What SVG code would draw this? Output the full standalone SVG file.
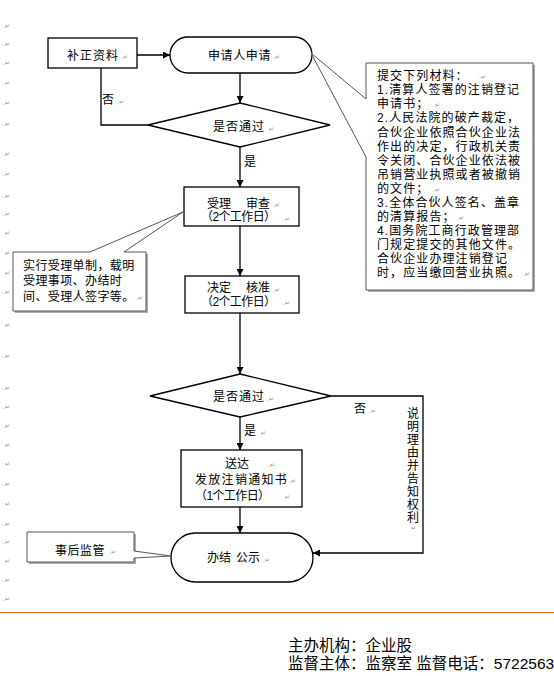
<svg xmlns="http://www.w3.org/2000/svg" width="554" height="676" viewBox="0 0 554 676">
<defs>
<marker id="arr" viewBox="0 0 10 10" refX="10" refY="5" markerWidth="7" markerHeight="7" markerUnits="userSpaceOnUse" orient="auto">
<path d="M0,0 L10,5 L0,10 z" fill="#000"/>
</marker>
</defs>
<style>
.box{fill:#fff;stroke:#000;stroke-width:1.3}
.call{fill:#fff;stroke:#555;stroke-width:1}
.shadow{fill:#aaa;stroke:none}
.ln{fill:none;stroke:#000;stroke-width:1.3}
.t{font-family:"Liberation Sans","Noto Sans CJK SC","Noto Sans CJK JP",sans-serif;font-size:12px;fill:#000}
.c{text-anchor:middle}
.m{font-family:"DejaVu Sans",sans-serif;font-size:6px;fill:#888}
.f{font-family:"Liberation Sans","Noto Sans CJK SC","Noto Sans CJK JP",sans-serif;font-size:15.5px;fill:#000}
.v{writing-mode:vertical-rl;letter-spacing:1px}
</style>
<rect width="554" height="676" fill="#fff"/>

<g id="margin-marks" class="m">
<text x="3" y="28">.↵</text><text x="3" y="46">.↵</text><text x="3" y="65">.↵</text><text x="3" y="85">.↵</text><text x="3" y="105">.↵</text><text x="3" y="126">.↵</text><text x="3" y="156">.↵</text><text x="3" y="176">.↵</text><text x="3" y="198">.↵</text><text x="3" y="216">.↵</text><text x="3" y="235">.↵</text><text x="3" y="255">.↵</text><text x="3" y="275">.↵</text><text x="3" y="294">.↵</text><text x="3" y="327">.↵</text><text x="3" y="358">.↵</text><text x="3" y="390">.↵</text><text x="3" y="409">.↵</text><text x="3" y="428">.↵</text><text x="3" y="447">.↵</text><text x="3" y="466">.↵</text><text x="3" y="486">.↵</text><text x="3" y="506">.↵</text><text x="3" y="526">.↵</text><text x="3" y="544">.↵</text><text x="3" y="563">.↵</text><text x="3" y="582">.↵</text><text x="3" y="601">.↵</text>
</g>

<g id="connectors">
<line class="ln" x1="137" y1="55" x2="170" y2="55" marker-end="url(#arr)"/>
<line class="ln" x1="240" y1="73" x2="240" y2="103" marker-end="url(#arr)"/>
<polyline class="ln" points="148,125 101,125 101,68"/>
<line class="ln" x1="240" y1="147" x2="240" y2="187" marker-end="url(#arr)"/>
<line class="ln" x1="240" y1="226" x2="240" y2="276" marker-end="url(#arr)"/>
<line class="ln" x1="240" y1="313" x2="240" y2="374" stroke="#333" marker-end="url(#arr)"/>
<line class="ln" x1="240" y1="417" x2="240" y2="450" marker-end="url(#arr)"/>
<polyline class="ln" points="331,396 423,396 423,553 313,553" marker-end="url(#arr)"/>
<line class="ln" x1="240" y1="507" x2="240" y2="533" marker-end="url(#arr)"/>
<g class="t">
<text x="102" y="104">否</text><text class="m" x="117" y="104">.↵</text>
<text x="244" y="166">是</text>
<text x="354" y="413">否</text><text class="m" x="369" y="413">.↵</text>
<text x="244" y="435">是</text><text class="m" x="259" y="435">.↵</text>
<text class="v" x="413" y="407" style="font-family:'Noto Sans CJK SC','Noto Sans CJK JP',sans-serif">说明理由并告知权利</text>
<text class="m" x="411" y="530">↵</text>
</g>
</g>

<g id="n-buzheng">
<rect class="box" x="48" y="38" width="89" height="30"/>
<text class="t" x="67" y="59.5" letter-spacing="1">补正资料</text><text class="m" x="121" y="59">.↵</text>
</g>

<g id="n-apply">
<rect class="box" x="170" y="37" width="142" height="36" rx="18"/>
<text class="t" x="208" y="59.5" letter-spacing="0.6">申请人申请</text><text class="m" x="273" y="59">.↵</text>
</g>

<g id="n-check1">
<polygon class="box" points="240,103 330,125 240,147 148,125"/>
<text class="t" x="213" y="131" letter-spacing="1">是否通过</text><text class="m" x="267" y="131">.↵</text>
</g>

<g id="n-accept">
<rect class="box" x="184" y="187" width="115" height="39"/>
<text class="t"><tspan x="207" y="207.5">受理</tspan><tspan x="246" y="207.5">审查</tspan><tspan x="201" y="221" letter-spacing="-0.6">（2个工作日）</tspan></text>
<text class="m"><tspan x="273" y="207">.↵</tspan><tspan x="283" y="221">.↵</tspan></text>
</g>

<g id="n-decide">
<rect class="box" x="185" y="276" width="114" height="37"/>
<text class="t"><tspan x="207" y="292">决定</tspan><tspan x="246" y="292">核准</tspan><tspan x="201" y="305.5" letter-spacing="-0.6">（2个工作日）</tspan></text>
<text class="m"><tspan x="273" y="292">.↵</tspan><tspan x="283" y="305">.↵</tspan></text>
</g>

<g id="n-check2">
<polygon class="box" points="240,374 331,396 240,417 150,396"/>
<text class="t" x="213" y="401" letter-spacing="1">是否通过</text><text class="m" x="267" y="401">.↵</text>
</g>

<g id="n-deliver">
<rect class="box" x="181" y="450" width="121" height="57"/>
<text class="t"><tspan x="225" y="467.5">送达</tspan><tspan x="195" y="483.5" letter-spacing="1.3">发放注销通知书</tspan><tspan x="195" y="499.5" letter-spacing="-0.6">（1个工作日）</tspan></text>
<text class="m"><tspan x="268" y="467">.↵</tspan><tspan x="289" y="483">.↵</tspan><tspan x="283" y="499">.↵</tspan></text>
</g>

<g id="n-finish">
<rect class="box" x="171" y="533" width="142" height="49" rx="24.5"/>
<text class="t"><tspan x="207" y="562">办结</tspan><tspan x="236" y="562">公示</tspan></text><text class="m" x="263" y="562">.↵</text>
</g>

<g id="callout-materials">
<polygon class="shadow" points="368,65 535,65 535,292 368,292"/>
<polygon class="call" points="366,63 533,63 533,290 366,290 366,157 311,53 366,99"/>
<text class="t" letter-spacing="1.1">
<tspan x="377" y="79.5">提交下列材料：</tspan>
<tspan x="377" y="93.5">1.清算人签署的注销登记</tspan>
<tspan x="377" y="107.5">申请书；</tspan>
<tspan x="377" y="122">2.人民法院的破产裁定，</tspan>
<tspan x="377" y="136.5">合伙企业依照合伙企业法</tspan>
<tspan x="377" y="150.5">作出的决定，行政机关责</tspan>
<tspan x="377" y="164.5">令关闭、合伙企业依法被</tspan>
<tspan x="377" y="178.5">吊销营业执照或者被撤销</tspan>
<tspan x="377" y="192.5">的文件；</tspan>
<tspan x="377" y="206.5">3.全体合伙人签名、盖章</tspan>
<tspan x="377" y="220.5">的清算报告；</tspan>
<tspan x="377" y="234.5">4.国务院工商行政管理部</tspan>
<tspan x="377" y="248.5">门规定提交的其他文件。</tspan>
<tspan x="377" y="262.5">合伙企业办理注销登记</tspan>
<tspan x="377" y="277">时，应当缴回营业执照。</tspan>
</text>
<text class="m"><tspan x="479" y="79">.↵</tspan><tspan x="433" y="107">.↵</tspan><tspan x="433" y="192">.↵</tspan><tspan x="457" y="220">.↵</tspan><tspan x="523" y="276">.↵</tspan></text>
</g>

<g id="callout-accept">
<polygon class="shadow" points="15,254 148,254 148,313 15,313"/>
<polygon class="call" points="13,252 90,252 183,212 124,252 146,252 146,311 13,311"/>
<text class="t" letter-spacing="0.4">
<tspan x="23" y="269.5">实行受理单制，载明</tspan>
<tspan x="23" y="284.5">受理事项、办结时</tspan>
<tspan x="23" y="300.5">间、受理人签字等。</tspan>
</text>
<text class="m" x="136" y="300">.↵</text>
</g>

<g id="callout-supervise">
<polygon class="shadow" points="29,534 136,534 136,564 29,564"/>
<polygon class="call" points="27,532 134,532 134,551 171,556 134,558 134,562 27,562"/>
<text class="t" x="55" y="554.5" letter-spacing="0.5">事后监管</text><text class="m" x="109" y="554">.↵</text>
</g>

<line x1="0" y1="612.5" x2="554" y2="612.5" stroke="#E0702E" stroke-width="1"/>

<g id="footer">
<text class="f"><tspan x="288" y="651">主办机构：企业股</tspan><tspan x="288" y="669">监督主体：监察室 监督电话：5722563</tspan></text>
</g>
</svg>
